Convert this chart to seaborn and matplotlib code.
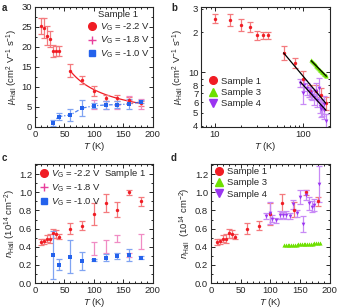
import numpy as np
import pandas as pd
import matplotlib
matplotlib.use("Agg")
import matplotlib.pyplot as plt
import seaborn as sns
from matplotlib.lines import Line2D
from matplotlib.ticker import FixedLocator, FuncFormatter, MultipleLocator, NullFormatter

sns.set_style("ticks")
plt.rcParams['font.family'] = ['Liberation Sans', 'DejaVu Sans']
plt.rcParams['mathtext.fontset'] = 'custom'
plt.rcParams['mathtext.rm'] = 'Liberation Sans'
plt.rcParams['mathtext.it'] = 'Liberation Sans:italic'
plt.rcParams['font.size'] = 6.8
plt.rcParams['axes.linewidth'] = 0.8

# ---- data: sample 1 at three gate voltages ----
T_22 = [10, 15, 20, 25, 30, 35, 40, 60, 80, 100, 120, 140, 160, 180]
mu_22 = [25.3, 24.7, 22.8, 22.0, 19.1, 19.0, 19.0, 14.1, 11.8, 9.0, 7.3, 7.3, 6.8, 5.9]
mu_22_err = [2.0, 2.5, 2.3, 2.0, 1.5, 1.2, 1.2, 1.7, 1.0, 1.2, 0.7, 0.8, 0.8, 0.7]
n_22 = [0.45, 0.46, 0.49, 0.49, 0.55, 0.54, 0.51, 0.60, 0.63, 0.76, 0.88, 0.81, 1.00, 0.90]
n_22_err = [0.03, 0.03, 0.04, 0.05, 0.05, 0.04, 0.03, 0.06, 0.05, 0.12, 0.10, 0.08, 0.03, 0.05]

T_18 = [100, 120, 140, 160, 180]
mu_18 = [5.7, 5.5, 5.0, 7.3, 5.7]
mu_18_err = [1.1, 1.0, 0.6, 0.5, 1.3]
n_18 = [0.38, 0.40, 0.49, 0.31, 0.46]
n_18_err = [0.07, 0.07, 0.04, 0.02, 0.08]

T_10 = [30, 40, 60, 80, 100, 120, 140, 160, 180]
mu_10 = [1.0, 2.6, 3.0, 4.7, 5.3, 5.5, 5.6, 5.7, 6.3]
mu_10_err = [0.8, 0.8, 1.5, 2.0, 0.6, 1.0, 0.8, 1.3, 0.4]
n_10 = [0.31, 0.20, 0.29, 0.24, 0.25, 0.28, 0.30, 0.31, 0.28]
n_10_err = [0.26, 0.06, 0.18, 0.10, 0.01, 0.04, 0.03, 0.07, 0.02]

# ---- sample 3 and sample 4 ----
T_s3 = [123, 126, 129, 132, 135, 138, 141, 144, 147, 150, 153, 156, 159, 162, 165, 168, 171, 174, 177, 180, 183]
mu_s3 = [12.3, 12.1, 11.9, 11.7, 11.5, 11.3, 11.1, 11.0, 10.8, 10.7, 10.5, 10.4, 10.3, 10.1, 10.0, 9.9, 9.8, 9.7, 9.6, 9.5, 9.4]
n_s3 = [0.415, 0.417, 0.418, 0.419, 0.420, 0.421, 0.423, 0.424, 0.425, 0.426, 0.428, 0.429, 0.430, 0.431, 0.432, 0.434, 0.435, 0.436, 0.437, 0.438, 0.440]

T_s4 = [93, 100, 102, 109, 116, 122, 127, 133, 138, 145, 150, 154, 160, 165, 170, 174, 181]
mu_s4 = [8.4, 7.0, 8.0, 7.6, 7.2, 7.0, 6.8, 6.5, 7.3, 6.2, 7.6, 5.6, 5.3, 5.5, 5.8, 5.2, 4.3]
mu_s4_err = [0.6, 1.2, 0.7, 0.8, 0.6, 0.7, 0.6, 0.8, 1.0, 0.7, 1.5, 0.6, 0.7, 0.8, 0.9, 0.7, 0.6]
n_s4 = [0.74, 0.77, 0.71, 0.69, 0.75, 0.75, 0.75, 0.74, 0.87, 0.77, 0.95, 0.65, 0.97, 0.88, 0.84, 0.86, 1.09]
n_s4_err = [0.03, 0.12, 0.04, 0.03, 0.04, 0.03, 0.04, 0.03, 0.05, 0.04, 0.08, 0.09, 0.06, 0.07, 0.06, 0.07, 0.20]

RED, RED_E = '#f01c24', '#f47a7e'
PINK, PINK_E = '#e8409c', '#f08cc4'
BLUE, BLUE_E = '#2462ec', '#80a4f2'
PURPLE, PURPLE_E = '#9a34f0', '#c88af6'
GREEN = '#6ee000'

fig = plt.figure(figsize=(3.38, 3.08), dpi=100)
axa = fig.add_axes([0.1036, 0.5877, 0.348, 0.390])
axb = fig.add_axes([0.595, 0.5877, 0.382, 0.390])
axc = fig.add_axes([0.1036, 0.081, 0.348, 0.386])
axd = fig.add_axes([0.624, 0.081, 0.352, 0.386])


def pts(ax, x, y, err, c, ce, m, s=6):
    ax.errorbar(x, y, yerr=err, fmt='none', ecolor=ce, elinewidth=0.9, capsize=2.5, capthick=0.9, zorder=2)
    sns.scatterplot(x=x, y=y, ax=ax, color=c, marker=m, s=s, linewidth=0, zorder=3, legend=False)


def powerfit(x, y):
    x = np.asarray(x, float)
    y = np.asarray(y, float)
    k, b = np.polyfit(np.log(x), np.log(y), 1)
    xx = np.linspace(x.min(), x.max(), 60)
    return xx, np.exp(b) * xx ** k


def style(ax):
    ax.tick_params(which='both', direction='in', top=True, right=True, width=0.7, pad=2)
    ax.tick_params(which='major', length=3)
    ax.tick_params(which='minor', length=1.6)


# ---- panel a ----
sel = [i for i, t in enumerate(T_22) if t >= 60]
fx, fy = powerfit([T_22[i] for i in sel], [mu_22[i] for i in sel])
sns.lineplot(x=fx, y=fy, ax=axa, color=RED, lw=0.9, zorder=1)
sns.lineplot(x=T_10, y=mu_10, ax=axa, color=BLUE, lw=0.9, linestyle=(0, (3, 1.5, 1, 1.5)), alpha=0.8, zorder=1)
pts(axa, T_22, mu_22, mu_22_err, RED, RED_E, 'o')
pts(axa, T_18, mu_18, mu_18_err, PINK, PINK_E, '+', s=10)
pts(axa, T_10, mu_10, mu_10_err, BLUE, BLUE_E, 's')
axa.set_xlim(0, 200)
axa.set_ylim(0, 30)
axa.xaxis.set_minor_locator(MultipleLocator(10))
axa.yaxis.set_minor_locator(MultipleLocator(2.5))
axa.set_xlabel(r'$T$ (K)', labelpad=1)
axa.set_ylabel(r'$\mu_{\rm Hall}$ (cm$^2$ V$^{-1}$ s$^{-1}$)', labelpad=1)
style(axa)
ha = [Line2D([], [], color=RED, marker='o', ls='none', ms=5.5),
      Line2D([], [], color=PINK, marker='+', ls='none', ms=6, mew=1),
      Line2D([], [], color=BLUE, marker='s', ls='none', ms=5)]
axa.legend(ha, [r'$V_{\rm G}$ = -2.2 V', r'$V_{\rm G}$ = -1.8 V', r'$V_{\rm G}$ = -1.0 V'],
           title='Sample 1', title_fontsize=6.8, fontsize=6.8, frameon=False, loc='upper right',
           handletextpad=0.2, borderaxespad=0.1, labelspacing=0.25, handlelength=1.2, borderpad=0.2)

# ---- panel b ----
pts(axb, T_22, mu_22, mu_22_err, RED, RED_E, 'o')
pts(axb, T_s4, mu_s4, mu_s4_err, PURPLE, PURPLE_E, 'v', s=7)
sns.scatterplot(x=T_s3, y=mu_s3, ax=axb, color=GREEN, marker='^', s=9, linewidth=0, zorder=3, legend=False)
for xs, ys in [([T_22[i] for i in sel], [mu_22[i] for i in sel]), (T_s4, mu_s4), (T_s3, mu_s3)]:
    fx, fy = powerfit(xs, ys)
    sns.lineplot(x=fx, y=fy, ax=axb, color='black', lw=0.9, zorder=4)
axb.set_xscale('log')
axb.set_yscale('log')
axb.set_xlim(7, 202)
axb.set_ylim(3.9, 31)
axb.xaxis.set_major_locator(FixedLocator([10, 100]))
axb.xaxis.set_major_formatter(FuncFormatter(lambda v, p: '%d' % v))
axb.xaxis.set_minor_formatter(NullFormatter())
axb.yaxis.set_major_locator(FixedLocator([10]))
axb.yaxis.set_major_formatter(FuncFormatter(lambda v, p: '10'))
minor_y = {4: '4', 5: '5', 6: '6', 7: '7', 8: '8', 9: '', 20: '2', 30: '3'}
axb.yaxis.set_minor_locator(FixedLocator(list(minor_y)))
axb.yaxis.set_minor_formatter(FuncFormatter(lambda v, p: minor_y.get(int(round(v)), '')))
axb.set_xlabel(r'$T$ (K)', labelpad=1)
axb.set_ylabel(r'$\mu_{\rm Hall}$ (cm$^2$ V$^{-1}$ s$^{-1}$)', labelpad=1)
style(axb)
axb.tick_params(axis='y', which='minor', labelsize=6.8)
hb = [Line2D([], [], color=RED, marker='o', ls='none', ms=5.5),
      Line2D([], [], color=GREEN, marker='^', ls='none', ms=5.5),
      Line2D([], [], color=PURPLE, marker='v', ls='none', ms=5.5)]
axb.legend(hb, ['Sample 1', 'Sample 3', 'Sample 4'], fontsize=6.8, frameon=False, loc='lower left',
           bbox_to_anchor=(0.0, 0.1), handletextpad=0.2, labelspacing=0.25, handlelength=1.2, borderpad=0.2)

# ---- panel c ----
pts(axc, T_22, n_22, n_22_err, RED, RED_E, 'o')
pts(axc, T_18, n_18, n_18_err, PINK, PINK_E, '+', s=10)
pts(axc, T_10, n_10, n_10_err, BLUE, BLUE_E, 's')
axc.set_xlim(0, 200)
axc.set_ylim(0, 1.31)
axc.yaxis.set_major_locator(MultipleLocator(0.2))
axc.yaxis.set_major_formatter(FuncFormatter(lambda v, p: '%.1f' % v))
axc.xaxis.set_minor_locator(MultipleLocator(10))
axc.yaxis.set_minor_locator(MultipleLocator(0.1))
axc.set_xlabel(r'$T$ (K)', labelpad=1)
axc.set_ylabel(r'$n_{\rm Hall}$ (10$^{14}$ cm$^{-2}$)', labelpad=1)
style(axc)
axc.legend(ha, [r'$V_{\rm G}$ = -2.2 V  Sample 1', r'$V_{\rm G}$ = -1.8 V', r'$V_{\rm G}$ = -1.0 V'],
           fontsize=6.8, frameon=False, loc='upper left', handletextpad=0.2, borderaxespad=0.1,
           labelspacing=0.25, handlelength=1.2, borderpad=0.2)

# ---- panel d ----
pts(axd, T_22, n_22, n_22_err, RED, RED_E, 'o')
pts(axd, T_s4, n_s4, n_s4_err, PURPLE, PURPLE_E, 'v', s=7)
sns.scatterplot(x=T_s3, y=n_s3, ax=axd, color=GREEN, marker='^', s=9, linewidth=0, zorder=3, legend=False)
axd.set_xlim(0, 200)
axd.set_ylim(0, 1.31)
axd.yaxis.set_major_locator(MultipleLocator(0.2))
axd.yaxis.set_major_formatter(FuncFormatter(lambda v, p: '%.1f' % v))
axd.xaxis.set_minor_locator(MultipleLocator(10))
axd.yaxis.set_minor_locator(MultipleLocator(0.1))
axd.set_xlabel(r'$T$ (K)', labelpad=1)
axd.set_ylabel(r'$n_{\rm Hall}$  (10$^{14}$ cm$^{-2}$)', labelpad=1)
style(axd)
axd.legend(hb, ['Sample 1', 'Sample 3', 'Sample 4'], fontsize=6.8, frameon=False, loc='upper left',
           handletextpad=0.2, borderaxespad=0.1, labelspacing=0.25, handlelength=1.2, borderpad=0.2)

for lab, x, y in [('a', 0.006, 0.99), ('b', 0.506, 0.99), ('c', 0.006, 0.503), ('d', 0.506, 0.503)]:
    fig.text(x, y, lab, fontweight='bold', fontsize=7, va='top', ha='left')

fig.savefig('out.png', dpi=100)
